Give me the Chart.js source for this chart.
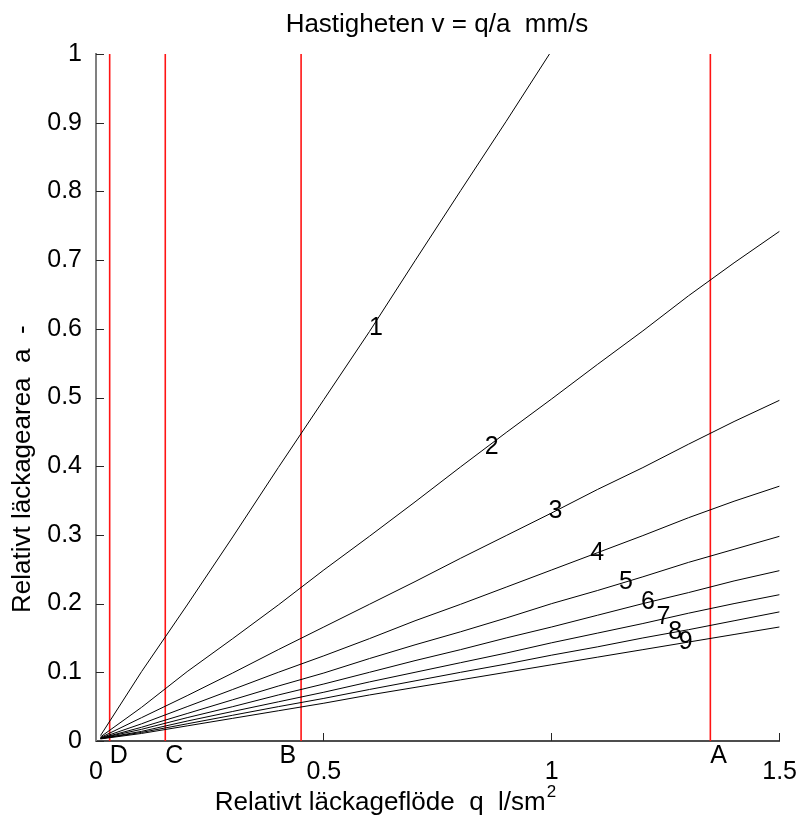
<!DOCTYPE html>
<html>
<head>
<meta charset="utf-8">
<script src="https://cdn.jsdelivr.net/npm/chart.js@4/dist/chart.umd.min.js"></script>
<style>
  html, body { margin: 0; padding: 0; background: #fff; }
  #wrap { width: 805px; height: 821px; }
</style>
</head>
<body>
<div id="wrap"><canvas id="chart" width="805" height="821"></canvas></div>
<script>
// Values (q on x, a on y)
const q1 = [0.01, 0.1, 0.2, 0.3, 0.4, 0.5, 0.6, 0.7, 0.8, 0.9, 0.995];
const qSteps = [0.01, 0.1, 0.2, 0.3, 0.4, 0.5, 0.6, 0.7, 0.8, 0.9, 1.0, 1.1, 1.2, 1.3, 1.4, 1.5];

const a1 = [0.008, 0.101, 0.198, 0.297, 0.398, 0.497, 0.596, 0.699, 0.801, 0.902, 1.0];
const a2 = [0.006, 0.049, 0.101, 0.149, 0.198, 0.249, 0.298, 0.348, 0.399, 0.449, 0.498, 0.548, 0.597, 0.648, 0.696, 0.742];
const a3 = [0.005, 0.034, 0.066, 0.099, 0.133, 0.166, 0.199, 0.232, 0.266, 0.299, 0.332, 0.366, 0.398, 0.432, 0.465, 0.496];
const a4 = [0.0045, 0.025, 0.050, 0.075, 0.100, 0.124, 0.149, 0.175, 0.199, 0.224, 0.249, 0.274, 0.299, 0.325, 0.349, 0.371];
const a5 = [0.004, 0.020, 0.040, 0.060, 0.080, 0.099, 0.120, 0.140, 0.159, 0.179, 0.200, 0.219, 0.239, 0.260, 0.279, 0.298];
const a6 = [0.004, 0.017, 0.034, 0.050, 0.067, 0.083, 0.100, 0.117, 0.133, 0.150, 0.166, 0.183, 0.200, 0.216, 0.233, 0.248];
const a7 = [0.0035, 0.014, 0.029, 0.043, 0.057, 0.071, 0.086, 0.100, 0.114, 0.128, 0.143, 0.157, 0.171, 0.186, 0.200, 0.213];
const a8 = [0.0035, 0.0125, 0.025, 0.0375, 0.050, 0.062, 0.075, 0.0875, 0.100, 0.112, 0.125, 0.137, 0.150, 0.162, 0.175, 0.188];
const a9 = [0.003, 0.011, 0.022, 0.033, 0.044, 0.055, 0.067, 0.078, 0.089, 0.100, 0.111, 0.122, 0.133, 0.144, 0.155, 0.166];

// curve numbers and where they sit
const curveNames = ['1', '2', '3', '4', '5', '6', '7', '8', '9'];
const curveNameQ = [0.614, 0.868, 1.008, 1.100, 1.163, 1.211, 1.245, 1.271, 1.294];
const curveNameA = [0.601, 0.428, 0.335, 0.273, 0.232, 0.202, 0.180, 0.159, 0.144];

// red marker lines
const markerNames = ['D', 'C', 'B', 'A'];
const markerQ = [0.03, 0.152, 0.45, 1.348];

const xTicks = [0, 0.5, 1, 1.5];
const yTicks = [0, 0.1, 0.2, 0.3, 0.4, 0.5, 0.6, 0.7, 0.8, 0.9, 1];

const FONT = '"Liberation Sans", Arial, sans-serif';

function toPoints(xs, ys) {
  return xs.map((v, i) => ({ x: v, y: ys[i] }));
}

const curves = [a1, a2, a3, a4, a5, a6, a7, a8, a9].map((arr, i) => ({
  label: 'v = ' + (i + 1),
  data: toPoints(i === 0 ? q1 : qSteps, arr),
  borderColor: '#000',
  borderWidth: 1,
  pointRadius: 0,
  tension: 0
}));

const markers = markerQ.map((v, i) => ({
  label: markerNames[i],
  data: [{ x: v, y: 0 }, { x: v, y: 1 }],
  borderColor: 'rgb(255, 20, 20)',
  borderWidth: 1.6,
  pointRadius: 0
}));

// inward ticks, texts and labels
const overlay = {
  id: 'overlay',
  afterDraw(chart) {
    const { ctx, chartArea: area, scales: { x, y } } = chart;
    ctx.save();

    ctx.strokeStyle = '#262626';
    ctx.lineWidth = 1;
    ctx.beginPath();
    yTicks.forEach(v => {
      const py = Math.round(y.getPixelForValue(v)) + 0.5;
      ctx.moveTo(area.left, py);
      ctx.lineTo(area.left + 8, py);
    });
    xTicks.forEach(v => {
      if (v === 0) return;
      const px = Math.round(x.getPixelForValue(v)) - 0.5;
      ctx.moveTo(px, area.bottom);
      ctx.lineTo(px, area.bottom - 8);
    });
    ctx.stroke();

    ctx.fillStyle = '#000';
    ctx.font = '25px ' + FONT;
    ctx.textBaseline = 'middle';

    ctx.textAlign = 'center';
    curveNames.forEach((n, i) => {
      ctx.fillText(n, x.getPixelForValue(curveNameQ[i]), y.getPixelForValue(curveNameA[i]));
    });

    markerNames.forEach((n, i) => {
      const px = x.getPixelForValue(markerQ[i]);
      if (n === 'B') {
        ctx.textAlign = 'right';
        ctx.fillText(n, px - 5, area.bottom + 15);
      } else {
        ctx.textAlign = 'left';
        ctx.fillText(n, px, area.bottom + 15);
      }
    });

    // title
    ctx.font = '26px ' + FONT;
    ctx.textAlign = 'center';
    ctx.fillText('Hastigheten v = q/a  mm/s', 437, 25);

    // x title with superscript
    const main = 'Relativt läckageflöde  q  l/sm';
    const w = ctx.measureText(main).width;
    ctx.font = '17px ' + FONT;
    const w2 = ctx.measureText('2').width;
    const left = 385 - (w + w2) / 2;
    ctx.textAlign = 'left';
    ctx.fillText('2', left + w + 1, 792);
    ctx.font = '26px ' + FONT;
    ctx.fillText(main, left, 803);

    // y title
    ctx.translate(23, 613);
    ctx.rotate(-Math.PI / 2);
    ctx.textAlign = 'left';
    ctx.fillText('Relativt läckagearea  a  -', 0, 0);

    ctx.restore();
  }
};

new Chart(document.getElementById('chart'), {
  type: 'line',
  data: { datasets: [...curves, ...markers] },
  options: {
    responsive: false,
    animation: false,
    layout: { padding: { left: 0, top: 54, right: 23, bottom: 0 } },
    plugins: {
      legend: { display: false },
      title: { display: false },
      tooltip: { enabled: false }
    },
    scales: {
      x: {
        type: 'linear',
        min: 0,
        max: 1.5,
        afterFit: s => { s.height = 80; },
        afterBuildTicks: s => { s.ticks = xTicks.map(v => ({ value: v })); },
        grid: { display: false },
        border: { display: true, color: '#4d4d4d', width: 2 },
        ticks: {
          color: '#000',
          padding: 8,
          maxRotation: 0,
          font: { family: FONT, size: 25 },
          callback: v => String(v)
        }
      },
      y: {
        type: 'linear',
        min: 0,
        max: 1,
        afterFit: s => { s.width = 96; },
        afterBuildTicks: s => { s.ticks = yTicks.map(v => ({ value: v })); },
        grid: { display: false },
        border: { display: true, color: '#808080', width: 2 },
        ticks: {
          color: '#000',
          padding: 6,
          font: { family: FONT, size: 25 },
          callback: v => String(+v.toFixed(1))
        }
      }
    }
  },
  plugins: [overlay]
});
</script>
</body>
</html>
